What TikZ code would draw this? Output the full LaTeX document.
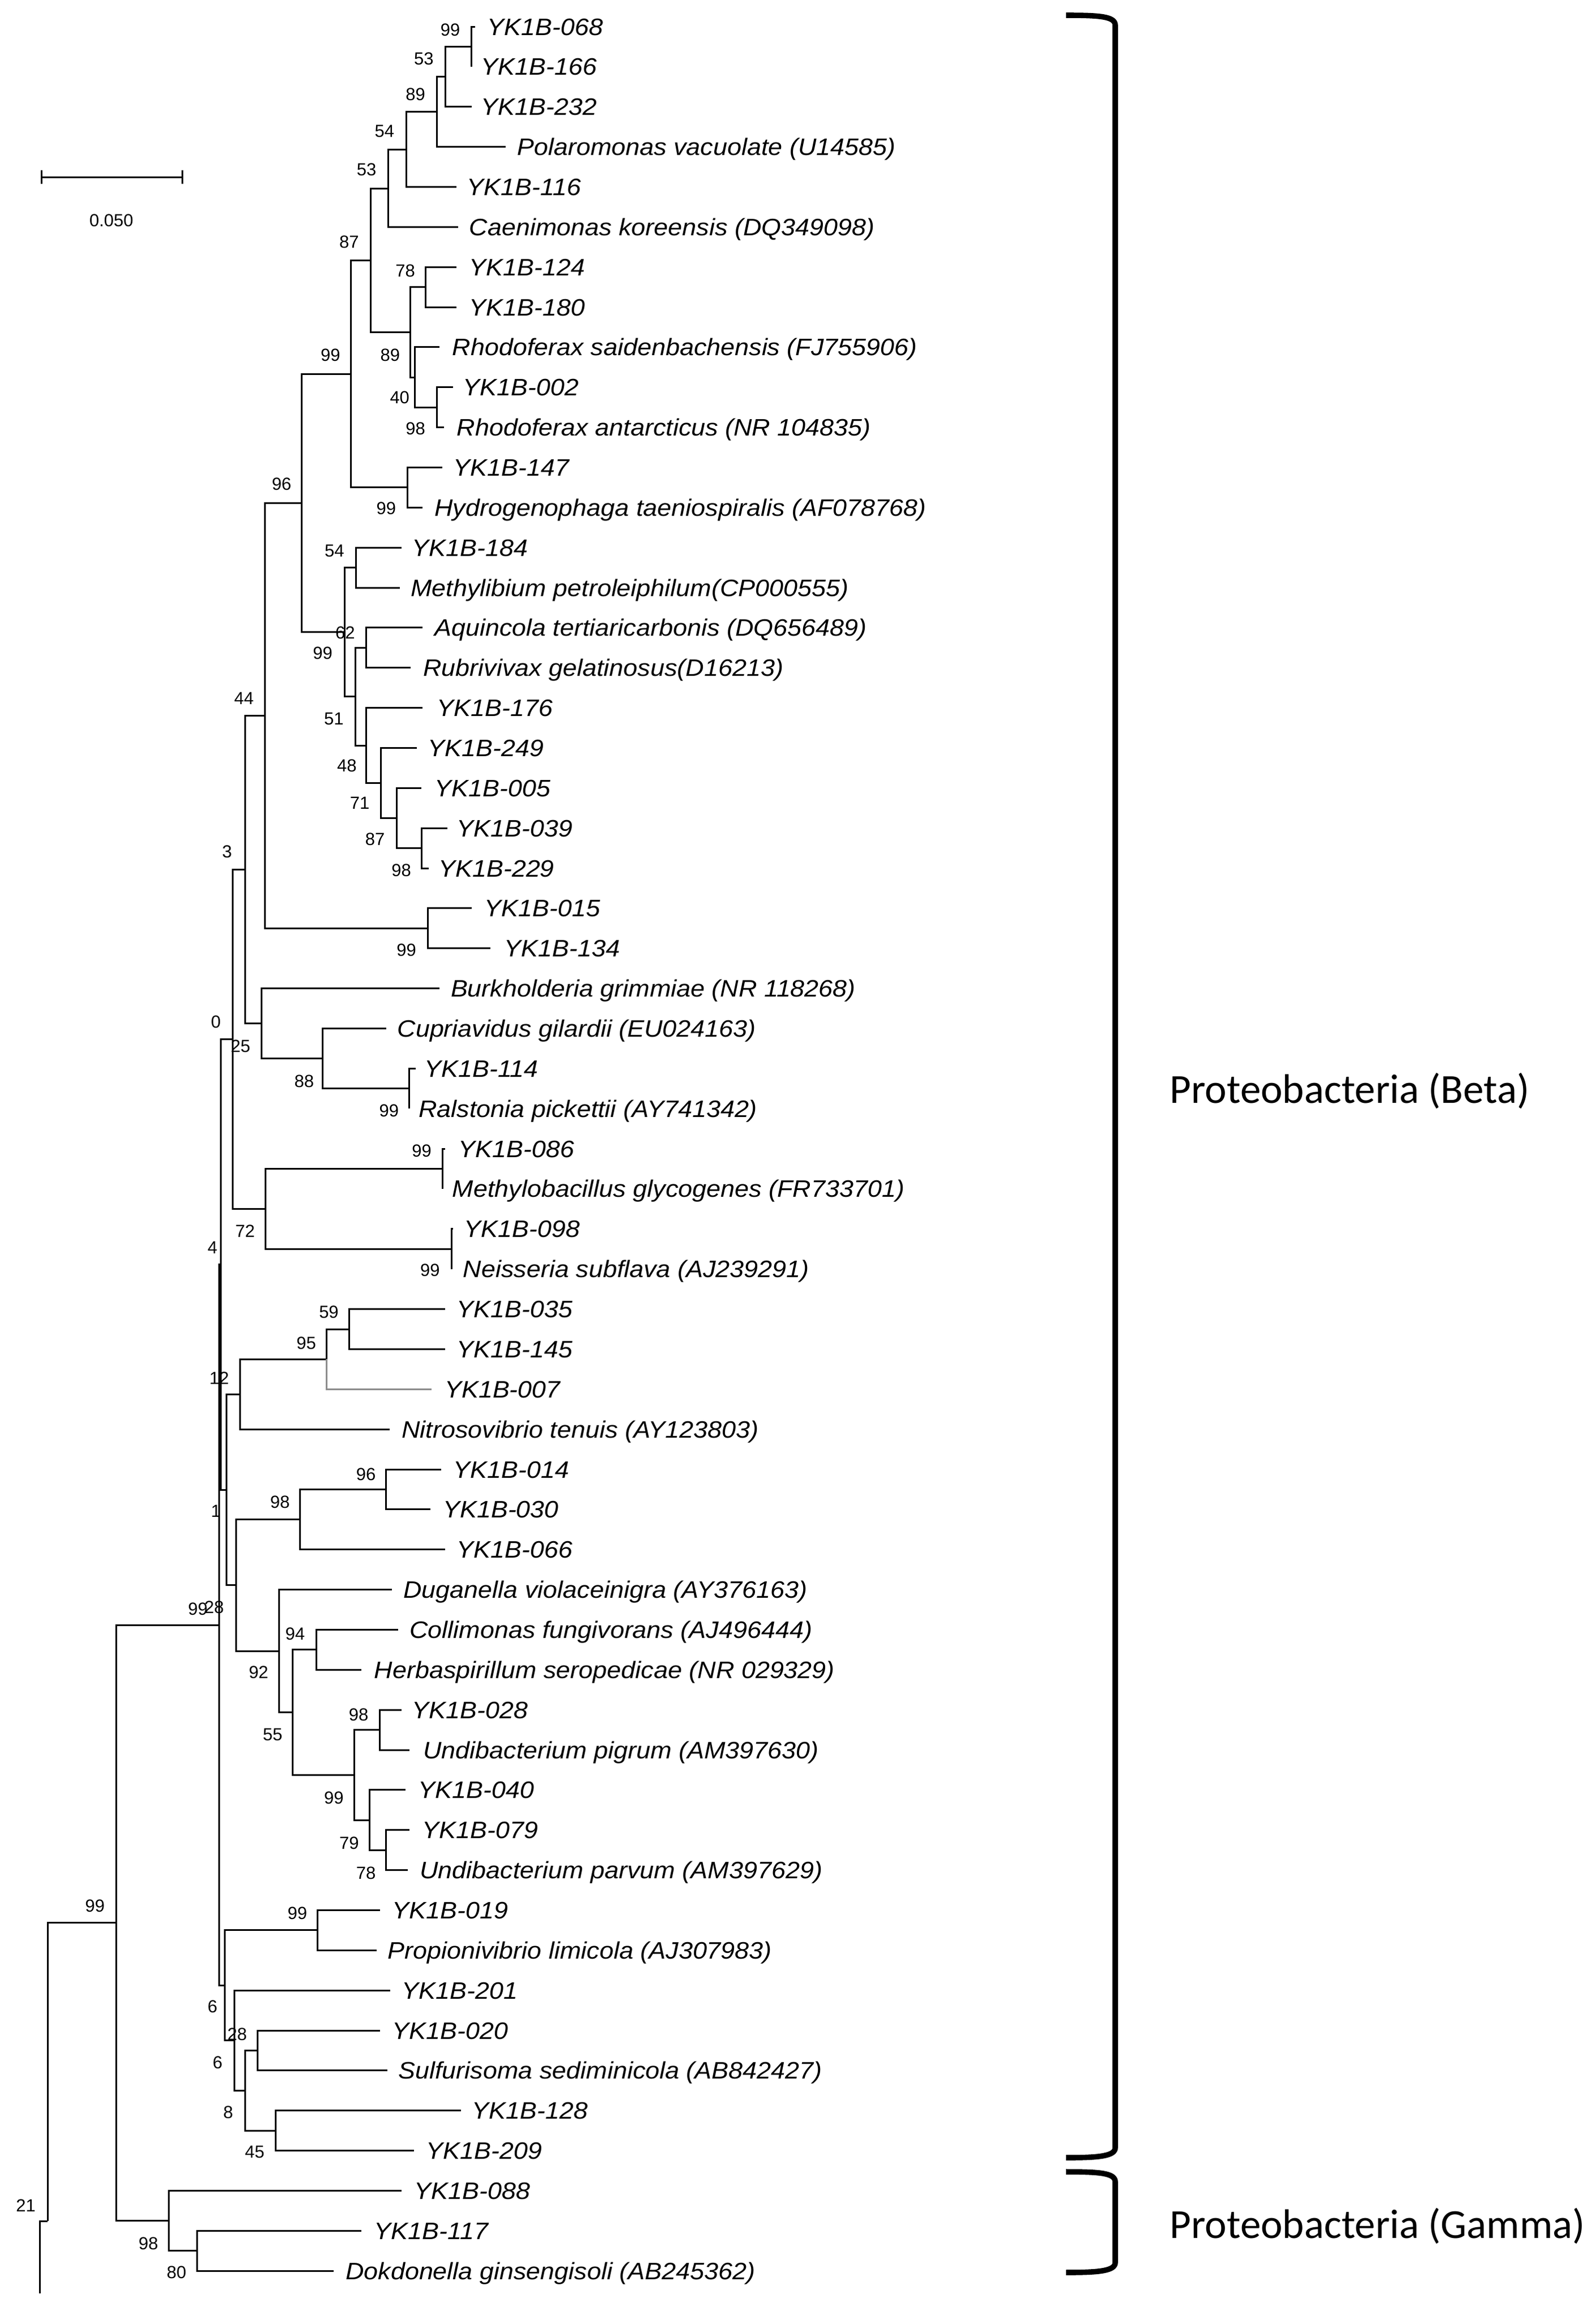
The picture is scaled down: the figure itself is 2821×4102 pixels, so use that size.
\documentclass[tikz,border=0pt]{standalone}
\usepackage{fontspec}
\newfontfamily\lfam{Liberation Sans}[FakeStretch=1.07]
\newfontfamily\bfam{Liberation Sans}
\newfontfamily\cfam{Carlito}
\newcommand\leaffont{\lfam\itshape\fontsize{10.5}{12}\selectfont}
\newcommand\bsfont{\bfam\fontsize{7.75}{9}\selectfont}
\newcommand\cladefont{\cfam\fontsize{18.25}{22}\selectfont}
\tikzset{
  br/.style={line width=0.75pt, draw=black},
  graybr/.style={line width=0.75pt, draw=black!45},
  leaf/.style={font=\leaffont, inner sep=0pt, anchor=base west},
  bs/.style={font=\bsfont, inner sep=0pt},
  clade/.style={font=\cladefont, inner sep=0pt, anchor=base west},
  bracket/.style={line width=2.4pt},
}
% [style]{id}{parent}{end x}{y}{label x}{text}
\newcommand\leafnode[7][br]{%
  \coordinate (e#2) at (#4,#5);
  \draw[#1] (#3) |- (e#2);
  \node[leaf] (t#2) at (#6,#5+15) {#7};}
\newcommand\bsnode[4]{\node[bs] (#1) at (#2,#3) {#4};}
\begin{document}
\begin{tikzpicture}[x=0.25pt,y=-0.25pt]
\fill[white] (0,0) rectangle (2821,4102);
\useasboundingbox (0,0) rectangle (2821,4102);
\begin{scope}[xscale=0.994]
% internal nodes
\coordinate (nA) at (839,82.5);
\coordinate (nB) at (792,135.6);
\coordinate (nC) at (777,197.5);
\coordinate (nD) at (723,264.5);
\coordinate (nE) at (691,333);
\coordinate (nF) at (659,460.5);
\coordinate (n78) at (757,507.6);
\coordinate (nQ) at (777,720.2);
\coordinate (nP) at (738,667);
\coordinate (nG) at (730,587.5);
\coordinate (nI) at (725,861.9);
\coordinate (nH) at (624,661.2);
\coordinate (n54) at (633,1003.6);
\coordinate (nM) at (651,1145.4);
\coordinate (n87) at (750,1499.6);
\coordinate (n71) at (706,1446.5);
\coordinate (n48) at (678,1384.5);
\coordinate (nO) at (651,1318);
\coordinate (nN) at (632,1231.7);
\coordinate (nK) at (613,1117.7);
\coordinate (nJ) at (537,889.4);
\coordinate (nR) at (761,1641.4);
\coordinate (nS) at (471,1265.4);
\coordinate (nW) at (728,1924.8);
\coordinate (nV) at (574,1871.7);
\coordinate (nU) at (465,1809.6);
\coordinate (nT) at (436,1537.5);
\coordinate (nX1) at (787,2066.5);
\coordinate (nX2) at (803,2208.2);
\coordinate (nX) at (472,2137.4);
\coordinate (nY) at (414,1837.4);
\coordinate (n59) at (621,2350);
\coordinate (n95) at (581,2403.1);
\coordinate (nZ) at (427,2465.1);
\coordinate (n96) at (687,2633.4);
\coordinate (n98b) at (534,2686.5);
\coordinate (n94) at (563,2916.8);
\coordinate (n98c) at (676,3058.5);
\coordinate (n78b) at (687,3271.1);
\coordinate (n79) at (657,3218);
\coordinate (n99c) at (630,3138.2);
\coordinate (n55) at (521,3027.5);
\coordinate (n92) at (496,2919);
\coordinate (nAA) at (420,2802.8);
\coordinate (nAB) at (403,2634);
\coordinate (n4) at (393,2235.7);
\coordinate (n99d) at (565,3412.9);
\coordinate (nAG) at (458,3625.4);
\coordinate (nAH) at (490,3767.2);
\coordinate (nAF) at (436,3696.3);
\coordinate (nAE) at (417,3607.7);
\coordinate (nAC) at (400,3510.3);
\coordinate (nBR) at (390,2873);
\coordinate (n80) at (351,3979.8);
\coordinate (nGM) at (300,3926.6);
\coordinate (nAD) at (207,3399.8);
\coordinate (n21) at (85,3927);
\coordinate (nRoot) at (71,4055);
% internal branches
\foreach \p/\c in {nB/nA,nC/nB,nD/nC,nE/nD,nF/nE,nF/nG,nG/n78,nG/nP,nP/nQ,
  nH/nF,nH/nI,nJ/nH,nJ/nK,nK/n54,nK/nN,nN/nM,nN/nO,nO/n48,n48/n71,n71/n87,
  nS/nJ,nS/nR,nT/nS,nT/nU,nU/nV,nV/nW,nY/nT,nY/nX,nX/nX1,nX/nX2,n4/nY,n4/nAB,
  nAB/nZ,nAB/nAA,nZ/n95,n95/n59,nAA/n98b,nAA/n92,n98b/n96,n92/n55,n55/n94,
  n55/n99c,n99c/n98c,n99c/n79,n79/n78b,nBR/n4,nBR/nAC,nAC/n99d,nAC/nAE,
  nAE/nAF,nAF/nAG,nAF/nAH,nAD/nBR,nAD/nGM,nGM/n80,n21/nAD,nRoot/n21}
  {\draw[br] (\p) |- (\c);}
% leaves
\leafnode{1}{nA}{845}{47}{866}{YK1B-068}
\leafnode{2}{nA}{839}{117.9}{855}{YK1B-166}
\leafnode{3}{nB}{839}{188.7}{855}{YK1B-232}
\leafnode{4}{nC}{899}{259.6}{919}{Polaromonas vacuolate (U14585)}
\leafnode{5}{nD}{812}{330.4}{830}{YK1B-116}
\leafnode{6}{nE}{815}{401.3}{834}{Caenimonas koreensis (DQ349098)}
\leafnode{7}{n78}{812}{472.2}{834}{YK1B-124}
\leafnode{8}{n78}{812}{543.0}{834}{YK1B-180}
\leafnode{9}{nP}{782}{613.9}{804}{Rhodoferax saidenbachensis (FJ755906)}
\leafnode{10}{nQ}{806}{684.7}{823}{YK1B-002}
\leafnode{11}{nQ}{790}{755.6}{812}{Rhodoferax antarcticus (NR 104835)}
\leafnode{12}{nI}{787}{826.5}{806}{YK1B-147}
\leafnode{13}{nI}{752}{897.3}{772}{Hydrogenophaga taeniospiralis (AF078768)}
\leafnode{14}{n54}{714}{968.2}{732}{YK1B-184}
\leafnode{15}{n54}{711}{1039.0}{730}{Methylibium petroleiphilum(CP000555)}
\leafnode{16}{nM}{752}{1109.9}{772}{Aquincola tertiaricarbonis (DQ656489)}
\leafnode{17}{nM}{730}{1180.8}{752}{Rubrivivax gelatinosus(D16213)}
\leafnode{18}{nO}{752}{1251.6}{776}{YK1B-176}
\leafnode{19}{n48}{741}{1322.5}{760}{YK1B-249}
\leafnode{20}{n71}{750}{1393.3}{772}{YK1B-005}
\leafnode{21}{n87}{796}{1464.2}{812}{YK1B-039}
\leafnode{22}{n87}{763}{1535.1}{779}{YK1B-229}
\leafnode{23}{nR}{839}{1605.9}{861}{YK1B-015}
\leafnode{24}{nR}{872}{1676.8}{896}{YK1B-134}
\leafnode{25}{nU}{782}{1747.6}{801}{Burkholderia grimmiae (NR 118268)}
\leafnode{26}{nV}{687}{1818.5}{706}{Cupriavidus gilardii (EU024163)}
\leafnode{27}{nW}{739}{1889.4}{754}{YK1B-114}
\leafnode{28}{nW}{728}{1960.2}{744}{Ralstonia pickettii (AY741342)}
\leafnode{29}{nX1}{792}{2031.1}{815}{YK1B-086}
\leafnode{30}{nX1}{787}{2101.9}{804}{Methylobacillus glycogenes (FR733701)}
\leafnode{31}{nX2}{806}{2172.8}{825}{YK1B-098}
\leafnode{32}{nX2}{803}{2243.7}{823}{Neisseria subflava (AJ239291)}
\leafnode{33}{n59}{792}{2314.5}{812}{YK1B-035}
\leafnode{34}{n59}{792}{2385.4}{812}{YK1B-145}
\leafnode[graybr]{35}{n95}{768}{2456.2}{790}{YK1B-007}
\leafnode{36}{nZ}{693}{2527.1}{714}{Nitrosovibrio tenuis (AY123803)}
\leafnode{37}{n96}{785}{2598.0}{806}{YK1B-014}
\leafnode{38}{n96}{766}{2668.8}{787}{YK1B-030}
\leafnode{39}{n98b}{792}{2739.7}{812}{YK1B-066}
\leafnode{40}{n92}{697}{2810.5}{717}{Duganella violaceinigra (AY376163)}
\leafnode{41}{n94}{708}{2881.4}{728}{Collimonas fungivorans (AJ496444)}
\leafnode{42}{n94}{643}{2952.3}{665}{Herbaspirillum seropedicae (NR 029329)}
\leafnode{43}{n98c}{714}{3023.1}{732}{YK1B-028}
\leafnode{44}{n98c}{728}{3094.0}{752}{Undibacterium pigrum (AM397630)}
\leafnode{45}{n79}{721}{3164.8}{743}{YK1B-040}
\leafnode{46}{n78b}{728}{3235.7}{750}{YK1B-079}
\leafnode{47}{n78b}{725}{3306.6}{746}{Undibacterium parvum (AM397629)}
\leafnode{48}{n99d}{676}{3377.4}{697}{YK1B-019}
\leafnode{49}{n99d}{670}{3448.3}{689}{Propionivibrio limicola (AJ307983)}
\leafnode{50}{nAE}{694}{3519.1}{714}{YK1B-201}
\leafnode{51}{nAG}{676}{3590.0}{697}{YK1B-020}
\leafnode{52}{nAG}{689}{3660.9}{708}{Sulfurisoma sediminicola (AB842427)}
\leafnode{53}{nAH}{820}{3731.7}{839}{YK1B-128}
\leafnode{54}{nAH}{736}{3802.6}{757}{YK1B-209}
\leafnode{55}{nGM}{714}{3873.4}{736}{YK1B-088}
\leafnode{56}{n80}{643}{3944.3}{665}{YK1B-117}
\leafnode{57}{n80}{594}{4015.2}{614}{Dokdonella ginsengisoli (AB245362)}
% bootstrap values
\bsnode{b1}{801}{52.5}{99}
\bsnode{b2}{754}{104}{53}
\bsnode{b3}{739}{167}{89}
\bsnode{b4}{684}{232}{54}
\bsnode{b5}{652}{300}{53}
\bsnode{b6}{621}{428}{87}
\bsnode{b7}{721}{479}{78}
\bsnode{b8}{588}{628}{99}
\bsnode{b9}{694}{628}{89}
\bsnode{b10}{711}{703}{40}
\bsnode{b11}{739}{758}{98}
\bsnode{b12}{501}{856}{96}
\bsnode{b13}{687}{899}{99}
\bsnode{b14}{595}{974}{54}
\bsnode{b15}{614}{1119}{62}
\bsnode{b16}{574}{1155}{99}
\bsnode{b17}{434}{1235}{44}
\bsnode{b18}{594}{1271}{51}
\bsnode{b19}{617}{1354}{48}
\bsnode{b20}{640}{1420}{71}
\bsnode{b21}{667}{1484}{87}
\bsnode{b22}{714}{1539}{98}
\bsnode{b23}{404}{1506}{3}
\bsnode{b24}{723}{1680}{99}
\bsnode{b25}{384}{1807}{0}
\bsnode{b26}{428}{1850}{25}
\bsnode{b27}{541}{1912}{88}
\bsnode{b28}{692}{1964}{99}
\bsnode{b29}{750}{2035}{99}
\bsnode{b30}{436}{2177}{72}
\bsnode{b31}{378}{2206}{4}
\bsnode{b32}{765}{2246}{99}
\bsnode{b33}{585}{2320}{59}
\bsnode{b34}{545}{2375}{95}
\bsnode{b35}{390}{2437}{12}
\bsnode{b36}{651}{2607}{96}
\bsnode{b37}{498}{2656}{98}
\bsnode{b38}{384}{2672}{1}
\bsnode{b39}{352}{2845}{99}
\bsnode{b40}{381}{2842}{28}
\bsnode{b41}{525}{2889}{94}
\bsnode{b42}{460}{2957}{92}
\bsnode{b43}{638}{3032}{98}
\bsnode{b44}{485}{3067}{55}
\bsnode{b45}{594}{3179}{99}
\bsnode{b46}{621}{3259}{79}
\bsnode{b47}{651}{3312}{78}
\bsnode{b48}{169}{3370}{99}
\bsnode{b49}{529}{3383}{99}
\bsnode{b50}{378}{3548}{6}
\bsnode{b51}{422}{3597}{28}
\bsnode{b52}{387}{3647}{6}
\bsnode{b53}{406}{3735}{8}
\bsnode{b54}{453}{3805}{45}
\bsnode{b55}{46}{3900}{21}
\bsnode{b56}{264}{3967}{98}
\bsnode{b57}{314}{4018}{80}
% scale bar
\coordinate (sbL) at (74,313);
\coordinate (sbR) at (324,313);
\coordinate (sbLt) at (74,301);
\coordinate (sbLb) at (74,325);
\coordinate (sbRt) at (324,301);
\coordinate (sbRb) at (324,325);
\draw[br] (sbL) -- (sbR);
\draw[br] (sbLt) -- (sbLb);
\draw[br] (sbRt) -- (sbRb);
\bsnode{sbl}{198}{390}{0.050}
\end{scope}
% brackets
\coordinate (bt1) at (1885,27);
\coordinate (bt2) at (1972,45);
\coordinate (bt3) at (1972,3797);
\coordinate (bt4) at (1885,3815);
\draw[bracket] (bt1) .. controls (1945,27) and (1972,29) .. (bt2) -- (bt3)
  .. controls (1972,3812) and (1945,3815) .. (bt4);
\coordinate (gt1) at (1885,3840);
\coordinate (gt2) at (1972,3858);
\coordinate (gt3) at (1972,4000);
\coordinate (gt4) at (1885,4018);
\draw[bracket] (gt1) .. controls (1945,3840) and (1972,3842) .. (gt2) -- (gt3)
  .. controls (1972,4015) and (1945,4018) .. (gt4);
\node[clade] (beta) at (2068,1950) {Proteobacteria (Beta)};
\node[clade] (gamma) at (2068,3957) {Proteobacteria (Gamma)};
\end{tikzpicture}
\end{document}
